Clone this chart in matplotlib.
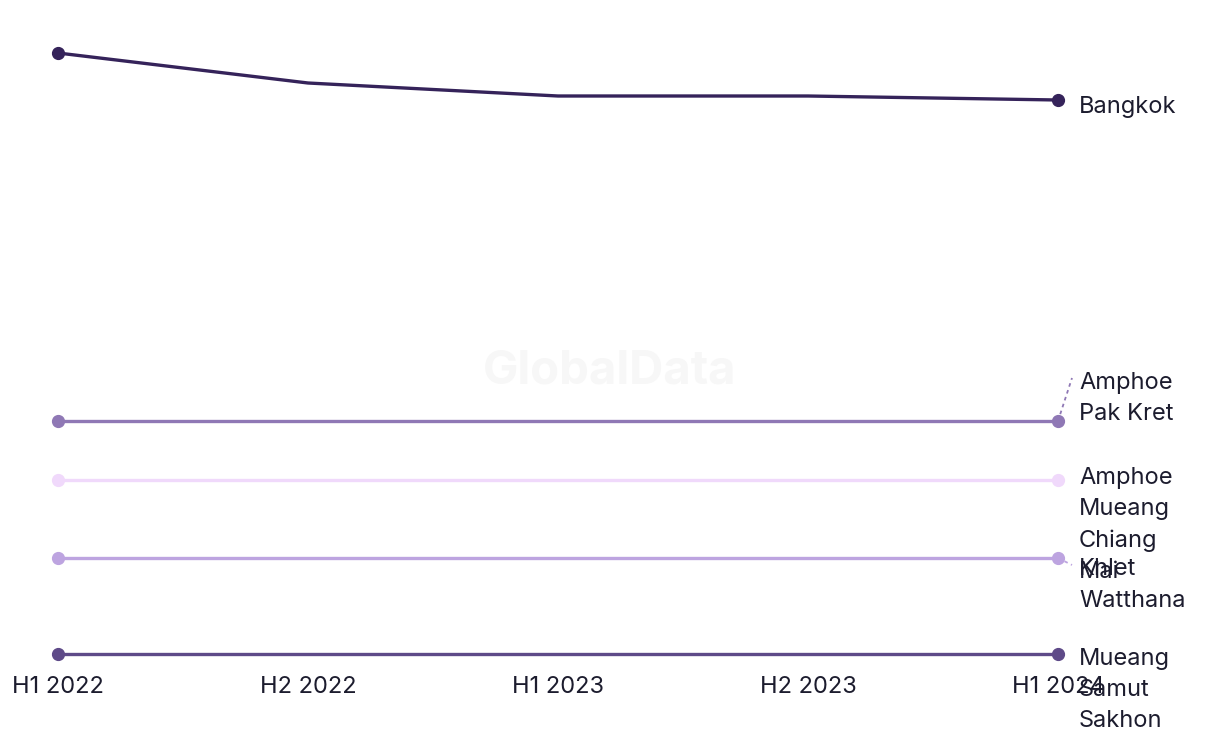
import matplotlib.pyplot as plt

# Datos
periodos = ["H1 2022", "H2 2022", "H1 2023", "H2 2023", "H1 2024"]
ciudades = ["Bangkok", "Amphoe Pak Kret", "Amphoe Mueang Chiang Mai",
            "Khlet Watthana", "Mueang Samut Sakhon"]
bangkok = [32.35, 30.85, 30.2, 30.2, 30.0]
pak_kret = [13.95, 13.95, 13.95, 13.95, 13.95]
chiang_mai = [11.0, 11.0, 11.0, 11.0, 11.0]
khlet_watthana = [7.1, 7.1, 7.1, 7.1, 7.1]
samut_sakhon = [2.3, 2.3, 2.3, 2.3, 2.3]
series = [bangkok, pak_kret, chiang_mai, khlet_watthana, samut_sakhon]

colores = ["#35235a", "#8f78b5", "#f0d9fb", "#bda4e0", "#5e4a88"]
etiquetas = ["Bangkok", "Amphoe\nPak Kret", "Amphoe\nMueang\nChiang\nMai",
             "Khlet\nWatthana", "Mueang\nSamut\nSakhon"]
# desplazamiento vertical de la etiqueta (en unidades de datos)
desplaz = [-0.35, 1.13, -2.25, -1.35, -1.8]

plt.rcParams['font.family'] = ['Inter', 'DejaVu Sans']

fig = plt.figure(figsize=(12.2, 7.44), dpi=100)
ax = fig.add_axes([58 / 1220, (744 - 665) / 744, 1000 / 1220, 665 / 744])

x = list(range(len(periodos)))

# marca de agua
fig.text(0.5, 0.5, "GlobalData", ha='center', va='center', fontsize=34,
         fontweight='bold', color='#f7f7f7', zorder=0)

for datos, color, etiqueta, d in zip(series, colores, etiquetas, desplaz):
    ax.plot(x, datos, color=color, linewidth=2.4, marker='o', markersize=8.5,
            markevery=[0, len(datos) - 1], solid_capstyle='round',
            clip_on=False, zorder=3)
    y_texto = datos[-1] + d
    ax.text(x[-1] + 0.084, y_texto, etiqueta, ha='left', va='center',
            fontsize=17, color='#1c1c2e', linespacing=1.55, clip_on=False)
    if etiqueta == "Amphoe\nPak Kret":
        ax.plot([x[-1], x[-1] + 0.056], [datos[-1], datos[-1] + 2.15],
                color=color, linestyle=(0, (2, 2)), linewidth=1.3, clip_on=False)
    if etiqueta == "Khlet\nWatthana":
        ax.plot([x[-1], x[-1] + 0.056], [datos[-1], datos[-1] - 0.35],
                color=color, linestyle=(0, (2, 2)), linewidth=1.3, clip_on=False)

ax.set_xlim(0, 4)
ax.set_ylim(1.75, 35)
ax.set_xticks(x)
ax.set_xticklabels(periodos, fontsize=17, color='#1c1c2e')
ax.tick_params(axis='x', length=0, pad=8)
ax.set_yticks([])
for lado in ax.spines.values():
    lado.set_visible(False)
ax.patch.set_alpha(0)

plt.savefig("out.png", dpi=100)
